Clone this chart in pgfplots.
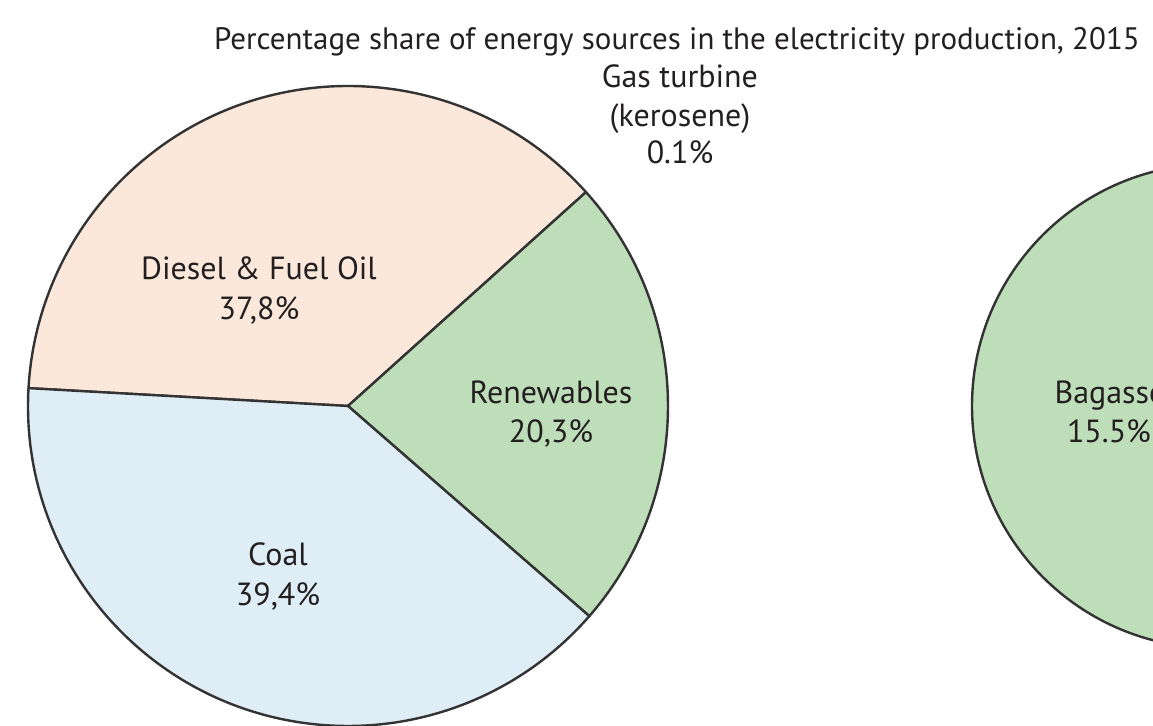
\documentclass[border=0pt]{standalone}
\usepackage{pgfplots}
\pgfplotsset{compat=1.18}
\usepackage{pgfplotstable}
\usepackage{fontspec}
\setmainfont{PT Sans}

\definecolor{diesel}{HTML}{FBE8DB}
\definecolor{renew}{HTML}{BEDDB9}
\definecolor{coal}{HTML}{DFEEF6}
\definecolor{edge}{HTML}{333333}
\definecolor{txt}{HTML}{231F20}

% one row per slice: centre (px), radius (px), start and end angle (deg)
\pgfplotstableread{
x y r a0 a1
348 406 320 41.95 176.8
}\dieseltab
\pgfplotstableread{
x y r a0 a1
348 406 320 -41.05 41.95
}\renewtab
\pgfplotstableread{
x y r a0 a1
348 406 320 176.8 318.95
}\coaltab
\pgfplotstableread{
x y r a0 a1
1214 406 242 0 360
}\bagassetab

\pgfplotsset{
  canvas/.style={
    at={(0,0)}, anchor=south west,
    scale only axis, width=576.5pt, height=363pt,
    xmin=0, xmax=1153, ymin=0, ymax=726, y dir=reverse,
    hide axis, clip=false,
  },
  pie/.style={
    scatter, only marks, mark=*, mark size=0.01pt,
    mark options={draw=none, fill=none},
    visualization depends on={\thisrow{r}\as\rpx},
    visualization depends on={\thisrow{a0}\as\aA},
    visualization depends on={\thisrow{a1}\as\aB},
    scatter/@pre marker code/.code={
      \filldraw[fill=#1, draw=edge, line width=1.2pt, line join=round]
        (0,0) -- (\aA:\rpx*0.5pt)
        arc[start angle=\aA, end angle=\aB, radius=\rpx*0.5pt] -- cycle;
    },
    scatter/@post marker code/.code={},
  },
}
\tikzset{lbl/.style={anchor=base, font=\fontsize{16}{19}\selectfont, text=txt, inner sep=0pt}}

\begin{document}
\begin{tikzpicture}
\useasboundingbox (0,0) rectangle (576.5pt,363pt);
\clip (0,0) rectangle (576.5pt,363pt);
\begin{axis}[canvas]
\addplot[pie=diesel] table {\dieseltab};
\addplot[pie=renew] table {\renewtab};
\addplot[pie=coal] table {\coaltab};
\addplot[pie=renew] table {\bagassetab};
\end{axis}
% labels in a second, identical axis so they sit on top of the slices
\begin{axis}[canvas]
\node[lbl, font=\fontsize{15.5}{18}\selectfont] at (axis cs:677,50)
  {Percentage share of energy sources in the electricity production, 2015};
\node[lbl] at (axis cs:680,88) {Gas turbine};
\node[lbl] at (axis cs:680,127) {(kerosene)};
\node[lbl] at (axis cs:680,164) {0.1\%};
\node[lbl] at (axis cs:259,280) {Diesel \& Fuel Oil};
\node[lbl] at (axis cs:259,320) {37,8\%};
\node[lbl] at (axis cs:551,404) {Renewables};
\node[lbl] at (axis cs:551,443) {20,3\%};
\node[lbl] at (axis cs:278,566) {Coal};
\node[lbl] at (axis cs:278,606) {39,4\%};
\node[lbl] at (axis cs:1110,404) {Bagasse};
\node[lbl] at (axis cs:1109,443) {15.5\%};
\end{axis}
\end{tikzpicture}
\end{document}
